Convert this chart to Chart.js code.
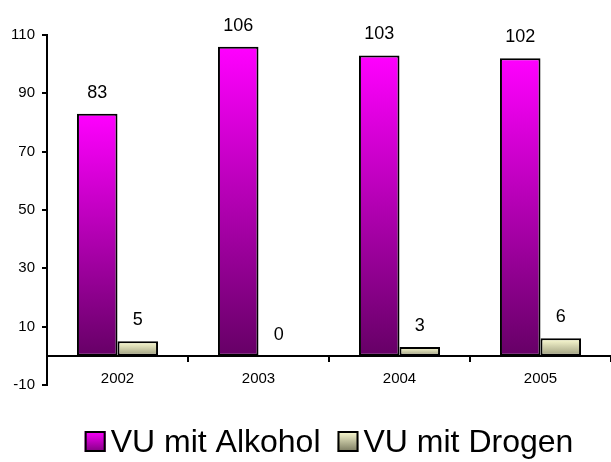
<!DOCTYPE html>
<html lang="de">
<head>
<meta charset="utf-8">
<title>VU mit Alkohol / Drogen</title>
<script src="https://cdn.jsdelivr.net/npm/chart.js@4.4.1/dist/chart.umd.min.js"></script>
<style>
    html, body { margin: 0; padding: 0; background: #fff; }
    #grafik { display: block; }
</style>
</head>
<body>
<canvas id="grafik" width="611" height="462"></canvas>
<script>
const jahre = ["2002", "2003", "2004", "2005"];
const vuAlkohol = [83, 106, 103, 102];
const vuDrogen = [5, 0, 3, 6];
const yTicks = [-10, 10, 30, 50, 70, 90, 110];

// Verlauf oben -> unten
const farbenAlkohol = ["#ff00ff", "#660066"];
const farbenDrogen = ["#ffffd6", "#9c9c7c"];

const SCHRIFT = '"Liberation Sans", Arial, sans-serif';

function verlauf(farben) {
    return (c) => {
        const chart = c.chart;
        const y = chart.scales.y;
        if (!chart.chartArea || !y || c.type !== "data") return farben[0];
        const oben = y.getPixelForValue(c.raw);
        const unten = y.getPixelForValue(0);
        if (Math.abs(unten - oben) < 1) return farben[1];
        const g = chart.ctx.createLinearGradient(0, oben, 0, unten);
        g.addColorStop(0, farben[0]);
        g.addColorStop(1, farben[1]);
        return g;
    };
}

// Werte über den Balken
const werteOben = {
    id: "werteOben",
    afterDatasetsDraw(chart) {
        const ctx = chart.ctx;
        ctx.save();
        ctx.font = "18px " + SCHRIFT;
        ctx.fillStyle = "#000";
        ctx.textAlign = "center";
        ctx.textBaseline = "middle";
        chart.data.datasets.forEach((ds, i) => {
            chart.getDatasetMeta(i).data.forEach((bar, j) => {
                ctx.fillText(String(ds.data[j]), bar.x, bar.y - 21);
            });
        });
        ctx.restore();
    },
};

// Legende unten, Kästchen dicht am Text
const legendeUnten = {
    id: "legendeUnten",
    afterDraw(chart) {
        const ctx = chart.ctx;
        ctx.save();
        ctx.font = "32px " + SCHRIFT;
        const box = 21, abstand = 5, zwischen = 17, basis = 452;
        const eintraege = chart.data.datasets.map((ds) => ({
            text: ds.label,
            farben: ds.legendFarben,
            breite: ctx.measureText(ds.label).width,
        }));
        const gesamt = eintraege.reduce((s, e) => s + box + abstand + e.breite, 0) + zwischen * (eintraege.length - 1);
        let x = (chart.chartArea.left + chart.chartArea.right) / 2 - gesamt / 2;
        eintraege.forEach((e) => {
            const top = basis - box;
            const g = ctx.createLinearGradient(0, top, 0, basis);
            g.addColorStop(0, e.farben[0]);
            g.addColorStop(1, e.farben[1]);
            ctx.fillStyle = g;
            ctx.fillRect(x, top, box, box);
            ctx.strokeStyle = "#000";
            ctx.lineWidth = 2;
            ctx.strokeRect(x + 1, top + 1, box - 2, box - 2);
            ctx.fillStyle = "#000";
            ctx.textAlign = "left";
            ctx.textBaseline = "alphabetic";
            ctx.fillText(e.text, x + box + abstand, basis);
            x += box + abstand + e.breite + zwischen;
        });
        ctx.restore();
    },
};

new Chart(document.getElementById("grafik"), {
    type: "bar",
    data: {
        labels: jahre,
        datasets: [
            {
                label: "VU mit Alkohol",
                data: vuAlkohol,
                backgroundColor: verlauf(farbenAlkohol),
                legendFarben: ["#ff00ff", "#800080"],
                borderColor: "#000",
                borderWidth: 2,
                borderSkipped: false,
            },
            {
                label: "VU mit Drogen",
                data: vuDrogen,
                backgroundColor: verlauf(farbenDrogen),
                legendFarben: ["#ffffd6", "#77775c"],
                borderColor: "#000",
                borderWidth: 2,
                borderSkipped: false,
            },
        ],
    },
    options: {
        responsive: false,
        animation: false,
        layout: { padding: { top: 35, bottom: 77, left: 0, right: 0 } },
        datasets: { bar: { categoryPercentage: 0.575, barPercentage: 1 } },
        scales: {
            x: {
                position: { y: 0 },
                grid: { display: true, drawOnChartArea: false, drawTicks: true, tickLength: 5, color: "#000", lineWidth: 2, offset: true },
                border: { display: true, color: "#000", width: 2 },
                ticks: { color: "#000", font: { family: SCHRIFT, size: 15 }, padding: 9, maxRotation: 0 },
            },
            y: {
                min: -10,
                max: 110,
                afterBuildTicks: (s) => { s.ticks = yTicks.map((v) => ({ value: v })); },
                afterFit: (s) => { s.width = 47; },
                grid: { display: true, drawOnChartArea: false, drawTicks: true, tickLength: 5, color: "#000", lineWidth: 2 },
                border: { display: true, color: "#000", width: 2 },
                ticks: { color: "#000", font: { family: SCHRIFT, size: 15 }, padding: 7 },
            },
        },
        plugins: {
            legend: { display: false },
            tooltip: { enabled: false },
        },
    },
    plugins: [werteOben, legendeUnten],
});
</script>
</body>
</html>
